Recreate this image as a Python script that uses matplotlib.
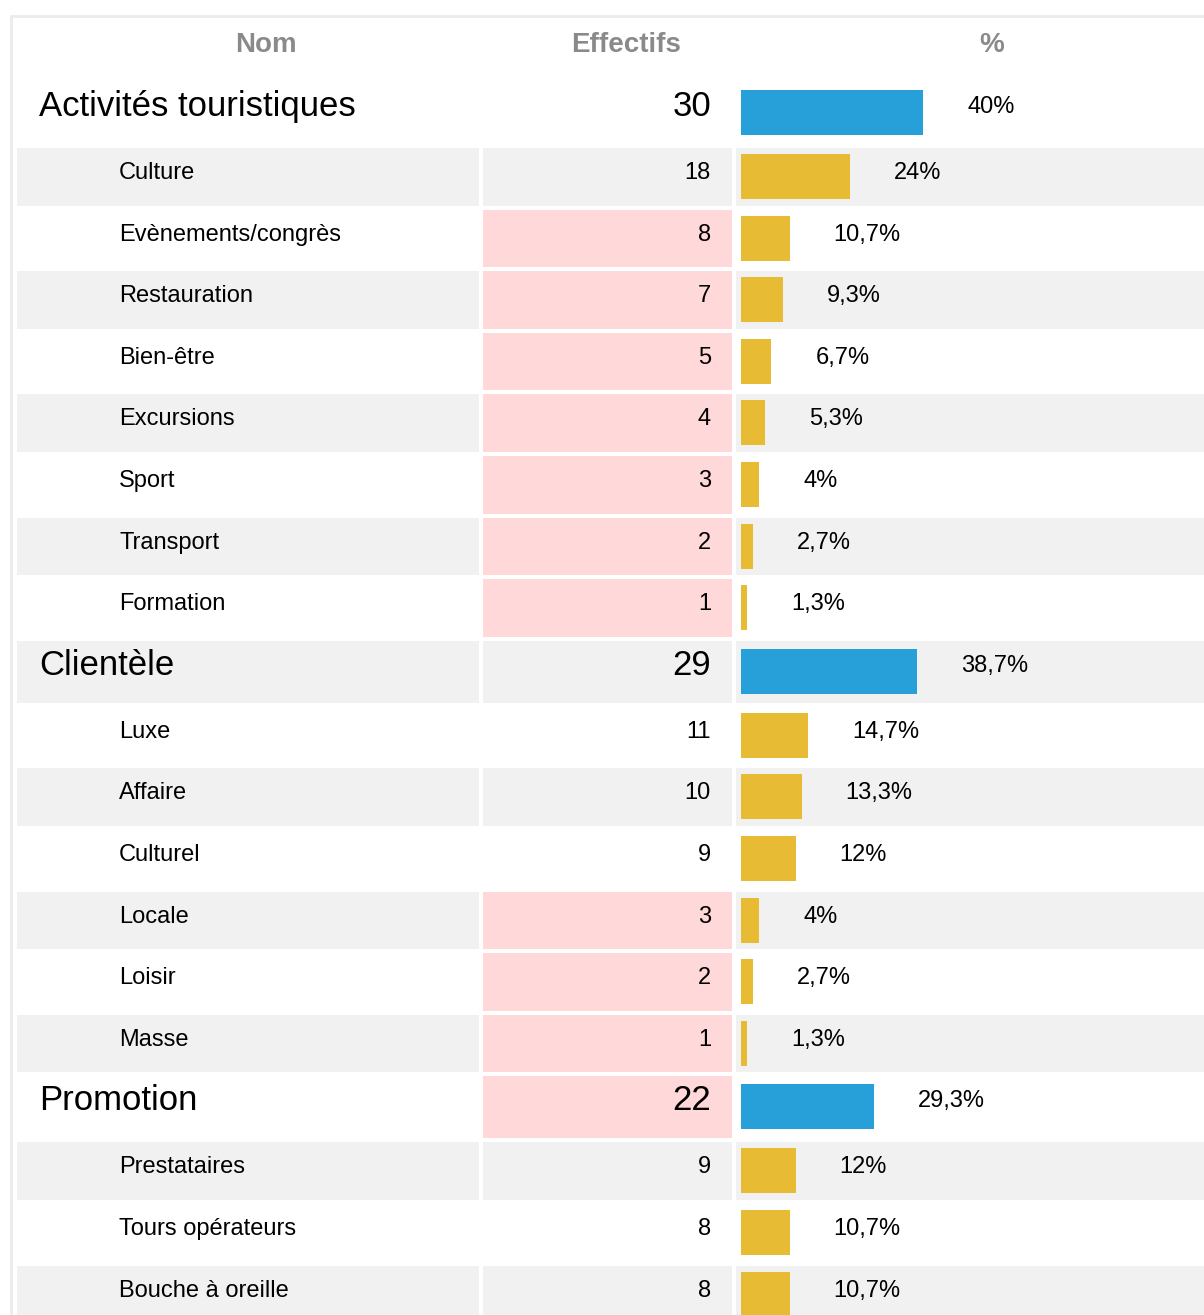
import matplotlib.pyplot as plt

plt.rcParams['font.family'] = ['Liberation Sans', 'DejaVu Sans']

# data
groups = ["Activités touristiques", "Clientèle", "Promotion"]
group_counts = [30, 29, 22]
group_pcts = [40, 38.7, 29.3]
group_flag = [False, False, True]

sub_names = [
    ["Culture", "Evènements/congrès", "Restauration", "Bien-être", "Excursions",
     "Sport", "Transport", "Formation"],
    ["Luxe", "Affaire", "Culturel", "Locale", "Loisir", "Masse"],
    ["Prestataires", "Tours opérateurs", "Bouche à oreille"],
]
sub_counts = [
    [18, 8, 7, 5, 4, 3, 2, 1],
    [11, 10, 9, 3, 2, 1],
    [9, 8, 8],
]
sub_pcts = [
    [24, 10.7, 9.3, 6.7, 5.3, 4, 2.7, 1.3],
    [14.7, 13.3, 12, 4, 2.7, 1.3],
    [12, 10.7, 10.7],
]
sub_flag = [
    [False, True, True, True, True, True, True, True],
    [False, False, False, True, True, True],
    [False, False, False],
]
headers = ["Nom", "Effectifs", "%"]

# colours
GRAY = "#f1f1f1"
PINK = "#ffd8d9"
BLUE = "#27a0da"
YELLOW = "#e8bb35"
HEAD = "#8a8a8a"

W, H = 1204, 1315
fig = plt.figure(figsize=(W / 100, H / 100), dpi=100)
ax = fig.add_axes([0, 0, 1, 1])
ax.set_xlim(0, W)
ax.set_ylim(H, 0)
ax.axis('off')

# column layout (pixels)
cols = [(17, 479), (483, 732), (736, W + 5)]
bar_x0 = 741
px_per_pct = 4.55

# build flat row list
rows = []
for g in range(len(groups)):
    rows.append((True, groups[g], group_counts[g], group_pcts[g], group_flag[g]))
    for n, c, p, f in zip(sub_names[g], sub_counts[g], sub_pcts[g], sub_flag[g]):
        rows.append((False, n, c, p, f))

# header
head_x = [266, 626, 992]
for x, t in zip(head_x, headers):
    ax.text(x, 52, t, ha='center', va='baseline', fontsize=20,
            fontweight='bold', color=HEAD)

# outer border
ax.plot([10, W], [16, 16], color="#ebebeb", lw=2, solid_capstyle='butt')
ax.plot([11, 11], [16, H], color="#ebebeb", lw=2, solid_capstyle='butt')

y = 82.0
for i, (is_group, name, count, pct, flag) in enumerate(rows):
    pitch = 66.0 if is_group else 61.6
    cell_h = pitch - 4
    bg = GRAY if i % 2 == 1 else "white"
    for k, (x0, x1) in enumerate(cols):
        c = PINK if (k == 1 and flag) else bg
        if c != "white":
            ax.barh(y, x1 - x0, left=x0, height=cell_h, align='edge',
                    color=c, linewidth=0)
    if is_group:
        fs = 25
        name_x = 39
        bar_top = y + 8
        base = y + 34
        colr = BLUE
    else:
        fs = 17
        name_x = 119
        bar_top = y + 6
        base = y + 31
        colr = YELLOW
    bw = pct * px_per_pct
    ax.barh(bar_top, bw, left=bar_x0, height=45, align='edge',
            color=colr, linewidth=0)
    ax.text(name_x, base, name, ha='left', va='baseline', fontsize=fs, color='black')
    ax.text(711, base, str(count), ha='right', va='baseline', fontsize=fs, color='black')
    label = f"{pct:g}".replace('.', ',') + "%"
    ax.text(bar_x0 + bw + 44, y + 31, label, ha='left', va='baseline',
            fontsize=17, color='black')
    y += pitch

fig.savefig('out.png', dpi=100)
